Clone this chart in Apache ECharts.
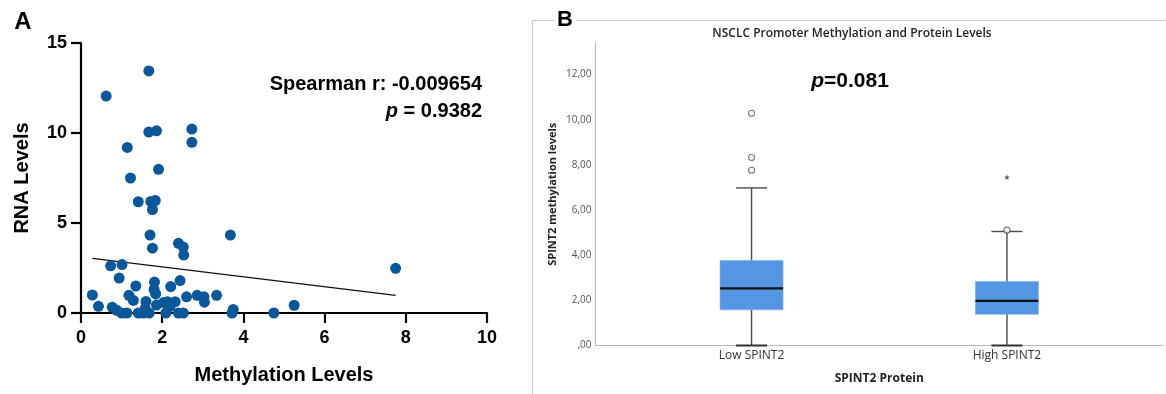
<!DOCTYPE html>
<html><head><meta charset="utf-8">
<script src="https://cdn.jsdelivr.net/npm/echarts@6/dist/echarts.min.js"></script>
<style>html,body{margin:0;padding:0;background:#fff}#c{width:1166px;height:394px}</style>
</head><body><div id="c"></div>
<script>
// ---------- Panel A data ----------
const methylation = [1.67,0.62,1.67,1.86,2.73,2.73,1.14,1.91,1.22,1.41,1.72,1.83,1.76,1.70,3.68,1.76,2.40,2.52,2.53,7.75,
  0.73,1.01,0.94,1.35,1.81,1.80,2.44,2.21,0.28,1.18,1.29,1.84,1.60,0.43,0.77,0.88,1.00,1.13,1.41,1.53,1.68,1.86,2.03,2.13,
  2.32,2.19,2.09,2.40,2.52,2.60,2.86,3.03,3.04,3.34,3.75,3.72,4.75,5.25,1.58];
const rnaLevels = [13.45,12.05,10.05,10.12,10.22,9.48,9.20,7.98,7.50,6.18,6.20,6.25,5.75,4.33,4.33,3.60,3.87,3.66,3.22,2.48,
  2.62,2.69,1.94,1.50,1.72,1.31,1.80,1.47,1.00,0.98,0.70,1.06,0.64,0.37,0.32,0.15,0.00,0.00,0.00,0.00,0.00,0.44,0.58,0.63,
  0.63,0.36,0.00,0.00,0.00,0.90,0.98,0.90,0.60,0.98,0.20,0.00,0.00,0.43,0.25];
const fitLineX = [0.28, 7.75];
const fitLineY = [3.04, 0.98];
const spearmanText = 'Spearman r: -0.009654';
const pTextA = '0.9382';

// ---------- Panel B data ----------
const boxCategories = ['Low SPINT2', 'High SPINT2'];
const boxMin = [0, 0];
const boxQ1 = [1.58, 1.38];
const boxMedian = [2.53, 1.98];
const boxQ3 = [3.77, 2.84];
const boxMax = [6.98, 5.05];
const outlierGroup = [0, 0, 0, 1];
const outlierValue = [10.29, 8.33, 7.76, 5.11];
const extremeGroup = [1];
const extremeValue = [7.46];
const pTextB = '=0.081';
const titleB = 'NSCLC Promoter Methylation and Protein Levels';

const scatterData = methylation.map((x, i) => [x, rnaLevels[i]]);
const fitData = fitLineX.map((x, i) => [x, fitLineY[i]]);
const boxData = boxCategories.map((c, i) => [i + 1, boxMin[i], boxQ1[i], boxMedian[i], boxQ3[i], boxMax[i]]);
const outlierData = outlierGroup.map((g, i) => [g + 1, outlierValue[i]]);
const extremeData = extremeGroup.map((g, i) => [g + 1, extremeValue[i]]);

const fA = '"Liberation Sans", Arial, sans-serif';
const fB = '"Open Sans", "Lato", sans-serif';

const chart = echarts.init(document.getElementById('c'), null, {renderer: 'canvas'});
chart.setOption({
  backgroundColor: '#fff',
  animation: false,
  grid: [
    {left: 81, top: 43, width: 406, height: 270},
    {left: 595.5, top: 43, width: 567.5, height: 302.5}
  ],
  xAxis: [
    {gridIndex: 0, type: 'value', min: 0, max: 10, interval: 2,
     axisLine: {lineStyle: {color: '#000', width: 2.2}},
     axisTick: {show: true, length: 10, lineStyle: {color: '#000', width: 2.2}},
     axisLabel: {color: '#000', fontFamily: fA, fontWeight: 'bold', fontSize: 18, margin: 16},
     splitLine: {show: false},
     name: 'Methylation Levels', nameLocation: 'middle', nameGap: 52,
     nameTextStyle: {color: '#000', fontFamily: fA, fontWeight: 'bold', fontSize: 20}},
    {gridIndex: 1, type: 'value', min: 0.389, max: 2.611,
     axisLine: {lineStyle: {color: '#bbb', width: 1.2}},
     axisTick: {show: false},
     axisLabel: {customValues: [1, 2], formatter: v => boxCategories[Math.round(v) - 1] || '',
       color: '#333', fontFamily: fB, fontSize: 12, margin: 4},
     splitLine: {show: false},
     name: 'SPINT2 Protein', nameLocation: 'middle', nameGap: 27,
     nameTextStyle: {color: '#222', fontFamily: fB, fontWeight: 'bold', fontSize: 12}}
  ],
  yAxis: [
    {gridIndex: 0, type: 'value', min: 0, max: 15, interval: 5,
     axisLine: {show: true, lineStyle: {color: '#000', width: 2.2}},
     axisTick: {show: true, length: 10, lineStyle: {color: '#000', width: 2.2}},
     axisLabel: {color: '#000', fontFamily: fA, fontWeight: 'bold', fontSize: 18, margin: 14},
     splitLine: {show: false},
     name: 'RNA Levels', nameLocation: 'middle', nameGap: 49,
     nameTextStyle: {color: '#000', fontFamily: fA, fontWeight: 'bold', fontSize: 20}},
    {gridIndex: 1, type: 'value', min: 0, max: 13.4, interval: 2,
     axisLine: {show: true, lineStyle: {color: '#bbb', width: 1.2}},
     axisTick: {show: false},
     axisLabel: {showMaxLabel: false, color: '#555', fontFamily: fB, fontSize: 10, margin: 4,
       formatter: v => (Math.abs(v % 2) > 1e-6) ? '' : (v === 0 ? ',00' : v.toFixed(2).replace('.', ','))},
     splitLine: {show: false},
     name: 'SPINT2 methylation levels', nameLocation: 'middle', nameGap: 37,
     nameTextStyle: {color: '#222', fontFamily: fB, fontWeight: 'bold', fontSize: 11}}
  ],
  series: [
    {type: 'line', xAxisIndex: 0, yAxisIndex: 0, data: fitData, showSymbol: false, symbol: 'none',
     lineStyle: {color: '#111', width: 1.3}, z: 2},
    {type: 'scatter', xAxisIndex: 0, yAxisIndex: 0, data: scatterData, symbolSize: 11,
     itemStyle: {color: '#0b5799', opacity: 1}, z: 3},
    {type: 'custom', xAxisIndex: 1, yAxisIndex: 1, data: boxData,
     encode: {x: 0, y: [1, 2, 3, 4, 5]},
     renderItem: function (params, api) {
       const x = api.value(0);
       const pMin = api.coord([x, api.value(1)]);
       const pQ1 = api.coord([x, api.value(2)]);
       const pMed = api.coord([x, api.value(3)]);
       const pQ3 = api.coord([x, api.value(4)]);
       const pMax = api.coord([x, api.value(5)]);
       const cx = pMin[0], bw = 63, cw = 31;
       const ws = {stroke: '#4a4a4a', lineWidth: 1.4};
       return {type: 'group', children: [
         {type: 'line', shape: {x1: cx, y1: pMax[1], x2: cx, y2: pMin[1]}, style: ws},
         {type: 'line', shape: {x1: cx - cw / 2, y1: pMax[1], x2: cx + cw / 2, y2: pMax[1]}, style: ws},
         {type: 'line', shape: {x1: cx - cw / 2, y1: pMin[1], x2: cx + cw / 2, y2: pMin[1]}, style: {stroke: '#333', lineWidth: 2}},
         {type: 'rect', shape: {x: cx - bw / 2, y: pQ3[1], width: bw, height: pQ1[1] - pQ3[1]},
          style: {fill: '#5596e2', stroke: '#79aeea', lineWidth: 0.6}},
         {type: 'line', shape: {x1: cx - bw / 2, y1: pMed[1], x2: cx + bw / 2, y2: pMed[1]}, style: {stroke: '#111', lineWidth: 2.2}}
       ]};
     }, z: 2},
    {type: 'scatter', xAxisIndex: 1, yAxisIndex: 1, data: outlierData, symbol: 'circle', symbolSize: 6,
     itemStyle: {color: '#fff', borderColor: '#555', borderWidth: 1.1}, z: 4},
    {type: 'scatter', xAxisIndex: 1, yAxisIndex: 1, data: extremeData, symbolSize: 6,
     symbol: 'path://M0,-1 L0.22,-0.31 L0.95,-0.31 L0.36,0.12 L0.59,0.81 L0,0.38 L-0.59,0.81 L-0.36,0.12 L-0.95,-0.31 L-0.22,-0.31 Z',
     itemStyle: {color: '#333'}, z: 4}
  ],
  graphic: [
    {type: 'rect', shape: {x: 532.5, y: 20.5, width: 700, height: 400}, style: {fill: 'none', stroke: '#c8c8c8', lineWidth: 1}, z: 0, silent: true},
    {type: 'text', x: 23, y: 22, style: {text: 'A', font: 'bold 24px ' + fA, fill: '#000', textAlign: 'center', textVerticalAlign: 'middle'}},
    {type: 'text', x: 565, y: 20, style: {text: 'B', font: 'bold 22px ' + fA, fill: '#000', textAlign: 'center', textVerticalAlign: 'middle', backgroundColor: '#fff', padding: [0, 3]}, z: 10},
    {type: 'text', x: 482, y: 84, style: {text: spearmanText, font: 'bold 20px ' + fA, fill: '#000', textAlign: 'right', textVerticalAlign: 'middle'}},
    {type: 'text', x: 482, y: 111, style: {text: '{i|p}{n| = ' + pTextA + '}', textAlign: 'right', textVerticalAlign: 'middle',
      rich: {i: {font: 'italic bold 20px ' + fA, fill: '#000'}, n: {font: 'bold 20px ' + fA, fill: '#000'}}}},
    {type: 'text', x: 852, y: 33.5, style: {text: titleB, font: '600 12px ' + fB, fill: '#222', textAlign: 'center', textVerticalAlign: 'middle'}},
    {type: 'text', x: 850, y: 81, style: {text: '{i|p}{n|' + pTextB + '}', textAlign: 'center', textVerticalAlign: 'middle',
      rich: {i: {font: 'italic bold 21px ' + fA, fill: '#000'}, n: {font: 'bold 21px ' + fA, fill: '#000'}}}}
  ]
});
</script>
</body></html>
